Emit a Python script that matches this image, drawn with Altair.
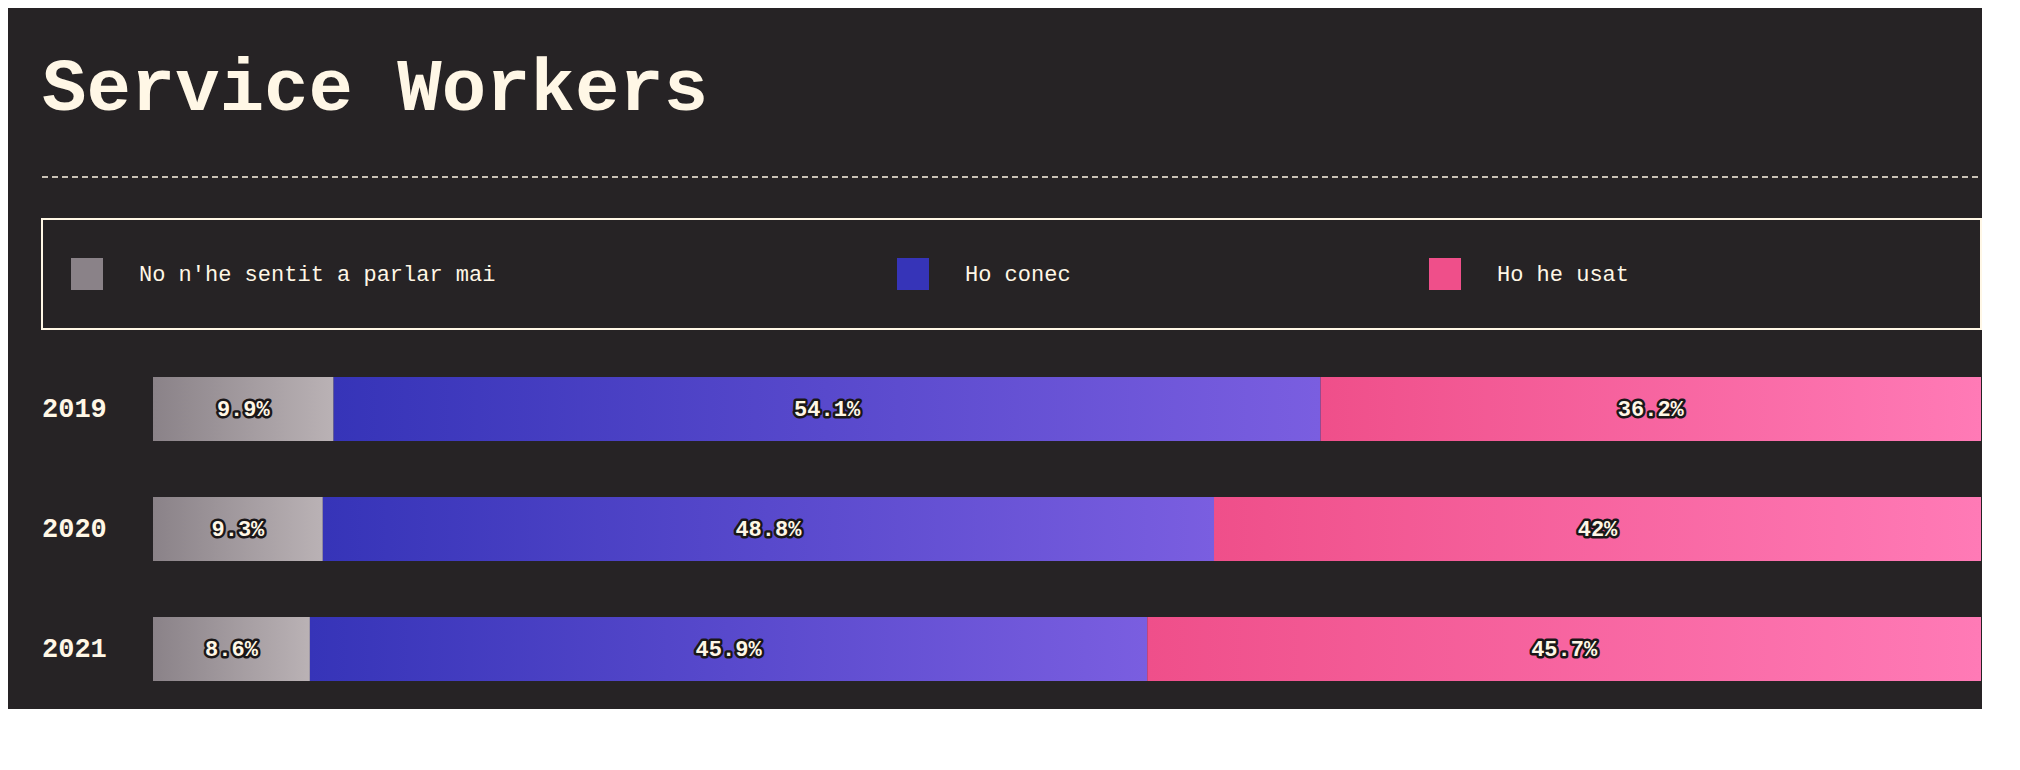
import altair as alt
import pandas as pd

years = ["2019", "2020", "2021"]
categories = ["No n'he sentit a parlar mai", "Ho conec", "Ho he usat"]
v_never = [9.9, 9.3, 8.6]
v_know = [54.1, 48.8, 45.9]
v_used = [36.2, 42, 45.7]

BG = "#262325"
CREAM = "#fff7e6"
FONT = "Liberation Mono"

rows = []
for i, y in enumerate(years):
    for k, (c, v) in enumerate(zip(categories, [v_never[i], v_know[i], v_used[i]])):
        rows.append({"year": y, "cat": c, "order": k, "value": v})
df = pd.DataFrame(rows)

grads = [("#8a8288", "#bab2b5"), ("#3634b8", "#7a5ee0"), ("#ef4f8a", "#ff7ab6")]
leg_x = [45, 871, 1403]
legend_df = pd.DataFrame({"cat": categories, "x": leg_x, "tx": [x + 52 for x in leg_x],
                          "c": [g[0] for g in grads], "y": [266] * 3})

W = 1939
xs = alt.Scale(domain=[0, W], nice=False, zero=False)
ys = alt.Scale(domain=[341, 0], nice=False, zero=False)
frame_df = pd.DataFrame({"tx": [0], "ty": [102], "dy": [169], "x0": [0], "x1": [W],
                         "b0": [211], "b1": [321], "t": ["Service Workers"]})
fb = alt.Chart(frame_df)
title = fb.mark_text(font=FONT, fontWeight="bold", fontSize=74, color=CREAM,
                     align="left", baseline="alphabetic").encode(
    x=alt.X("tx:Q", scale=xs, axis=None), y=alt.Y("ty:Q", scale=ys, axis=None), text="t:N")
dash = fb.mark_rule(color=CREAM, strokeDash=[6, 4], strokeWidth=1.5).encode(
    x=alt.X("x0:Q", scale=xs, axis=None), x2="x1:Q", y=alt.Y("dy:Q", scale=ys, axis=None))
box = fb.mark_rect(fill="transparent", stroke=CREAM, strokeWidth=2).encode(
    x=alt.X("x0:Q", scale=xs, axis=None), x2="x1:Q",
    y=alt.Y("b0:Q", scale=ys, axis=None), y2="b1:Q")
lb = alt.Chart(legend_df)
sq = lb.mark_square(size=1024, opacity=1).encode(
    x=alt.X("x:Q", scale=xs, axis=None), y=alt.Y("y:Q", scale=ys, axis=None),
    color=alt.Color("c:N", scale=None))
lt = lb.mark_text(font=FONT, fontSize=22, color=CREAM, align="left", baseline="middle").encode(
    x=alt.X("tx:Q", scale=xs, axis=None), y=alt.Y("y:Q", scale=ys, axis=None), text="cat:N")
header = alt.layer(title, dash, box, sq, lt).properties(width=W, height=341)

bx = alt.Scale(domain=[-0.06072, 1], nice=False, zero=False)
by = alt.Scale(domain=years, paddingInner=56 / 120, paddingOuter=28 / 120)
base = alt.Chart(df).transform_joinaggregate(
    total="sum(value)", groupby=["year"]).transform_window(
    cum="sum(value)", groupby=["year"], sort=[alt.SortField("order")],
    frame=[None, 0]).transform_calculate(
    s1="datum.cum / datum.total", s0="(datum.cum - datum.value) / datum.total").transform_calculate(
    mid="(datum.s0 + datum.s1) / 2", label="datum.value + '%'")

layers = []
for k, (c0, c1) in enumerate(grads):
    layers.append(base.transform_filter(alt.datum.order == k).mark_bar(
        color=alt.Gradient(gradient="linear", x1=0, x2=1, y1=0, y2=0,
                           stops=[alt.GradientStop(color=c0, offset=0),
                                  alt.GradientStop(color=c1, offset=1)])).encode(
        x=alt.X("s0:Q", scale=bx, axis=None), x2="s1:Q",
        y=alt.Y("year:N", scale=by, axis=None)))
lab_args = dict(font=FONT, fontWeight="bold", fontSize=22, align="center", baseline="middle")
enc = dict(x=alt.X("mid:Q", scale=bx, axis=None), y=alt.Y("year:N", scale=by, axis=None), text="label:N")
layers.append(base.mark_text(stroke="#1a1718", strokeWidth=5, fill="#1a1718", strokeJoin="round", **lab_args).encode(**enc))
layers.append(base.mark_text(fill=CREAM, **lab_args).encode(**enc))
layers.append(alt.Chart(pd.DataFrame({"year": years})).mark_text(
    font=FONT, fontWeight="bold", fontSize=27, color=CREAM, align="left", baseline="middle").encode(
    x=alt.value(0), y=alt.Y("year:N", scale=by, axis=None), text="year:N"))
bars = alt.layer(*layers).properties(width=W, height=360)

chart = alt.vconcat(header, bars, spacing=0).properties(
    background=BG, padding={"left": 33, "top": 0, "right": 0, "bottom": 0}
).configure_view(stroke=None)

chart.save("out.html", embed_options={"renderer": "svg", "actions": False})
